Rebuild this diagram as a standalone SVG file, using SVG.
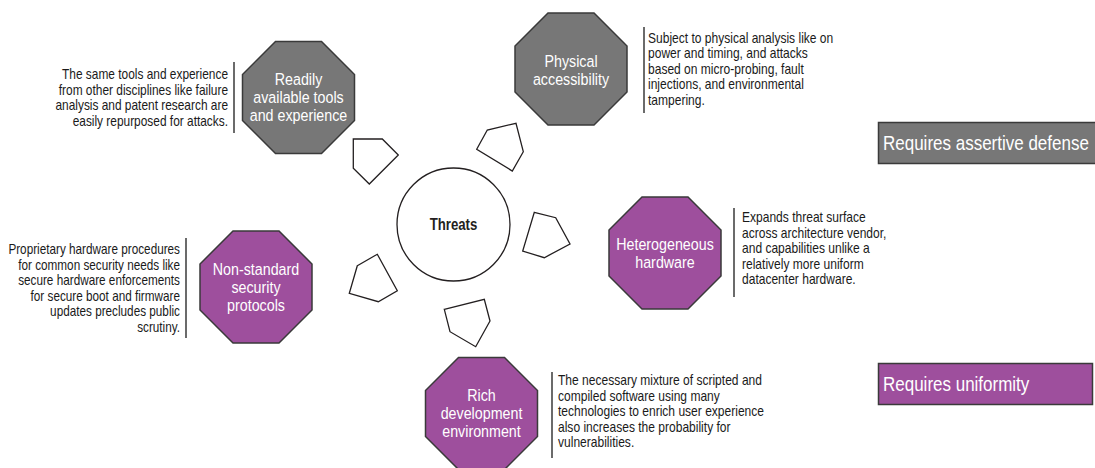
<svg xmlns="http://www.w3.org/2000/svg" width="1095" height="468" viewBox="0 0 1095 468">
<style>
.oct{stroke:#3a3a3a;stroke-width:1.5}
.gray{fill:#777777}
.purple{fill:#9e4f9d}
.otxt{font-family:"Liberation Sans",Arial,sans-serif;font-size:17px;fill:#ffffff;text-anchor:middle}
.desc{font-family:"Liberation Sans",Arial,sans-serif;font-size:14px;fill:#1a1a1a}
.r{text-anchor:end}
.bar{stroke:#3a3a3a;stroke-width:1.5}
.pent{fill:#ffffff;stroke:#231f20;stroke-width:1.3}
.leg{font-family:"Liberation Sans",Arial,sans-serif;font-size:20px;fill:#ffffff}
</style>
<rect width="1095" height="468" fill="#ffffff"/>

<g id="connectors">
<polygon class="pent" points="353.3,139 382.3,139 398.3,155 369.3,184 353.3,168.3"/>
<polygon class="pent" points="476.7,149.3 487.3,130 516,123.3 523.3,151.7 512.3,171"/>
<polygon class="pent" points="534.3,212.3 555.7,217.7 570,244 544.3,257.7 522.7,251"/>
<polygon class="pent" points="357.3,265.7 377.3,254.3 397.3,290.7 378.3,301.7 349.3,293.3"/>
<polygon class="pent" points="444.3,309.3 484.3,299.3 490,321 475.7,346.7 450,331.7"/>
</g>

<g id="threats">
<circle cx="453.5" cy="224.5" r="56.5" fill="#ffffff" stroke="#231f20" stroke-width="1.3"/>
<g transform="translate(453.5,0) scale(0.8,1)">
<text x="0" y="230.5" font-family="Liberation Sans,Arial,sans-serif" font-size="16.5" font-weight="bold" fill="#231f20" text-anchor="middle">Threats</text>
</g>
</g>

<g id="readily">
<polygon class="oct gray" points="275.5,41.5 321.5,41.5 354.5,74.5 354.5,120.5 321.5,153.5 275.5,153.5 242.5,120.5 242.5,74.5"/>
<g transform="translate(298.5,0) scale(0.84,1)">
<text class="otxt" x="0" y="85.5">Readily</text>
<text class="otxt" x="0" y="103.5">available tools</text>
<text class="otxt" x="0" y="121.5">and experience</text>
</g>
<line class="bar" x1="234" y1="62" x2="234" y2="133"/>
<g transform="translate(228,0) scale(0.85,1)">
<text class="desc r" x="0" y="79.5">The same tools and experience</text>
<text class="desc r" x="0" y="95">from other disciplines like failure</text>
<text class="desc r" x="0" y="110.5">analysis and patent research are</text>
<text class="desc r" x="0" y="126">easily repurposed for attacks.</text>
</g>
</g>

<g id="physical">
<polygon class="oct gray" points="548,13 594,13 627,46 627,92 594,125 548,125 515,92 515,46"/>
<g transform="translate(571,0) scale(0.84,1)">
<text class="otxt" x="0" y="67">Physical</text>
<text class="otxt" x="0" y="85">accessibility</text>
</g>
<line class="bar" x1="644" y1="27" x2="644" y2="113"/>
<g transform="translate(648,0) scale(0.86,1)">
<text class="desc" x="0" y="43">Subject to physical analysis like on</text>
<text class="desc" x="0" y="58.5">power and timing, and attacks</text>
<text class="desc" x="0" y="74">based on micro-probing, fault</text>
<text class="desc" x="0" y="89.5">injections, and environmental</text>
<text class="desc" x="0" y="105">tampering.</text>
</g>
</g>

<g id="nonstandard">
<polygon class="oct purple" points="233,231 279,231 312,264 312,310 279,343 233,343 200,310 200,264"/>
<g transform="translate(256,0) scale(0.84,1)">
<text class="otxt" x="0" y="275">Non-standard</text>
<text class="otxt" x="0" y="293">security</text>
<text class="otxt" x="0" y="311">protocols</text>
</g>
<line class="bar" x1="186" y1="238" x2="186" y2="338"/>
<g transform="translate(180,0) scale(0.84,1)">
<text class="desc r" x="0" y="254.5">Proprietary hardware procedures</text>
<text class="desc r" x="0" y="270">for common security needs like</text>
<text class="desc r" x="0" y="285.5">secure hardware enforcements</text>
<text class="desc r" x="0" y="301">for secure boot and firmware</text>
<text class="desc r" x="0" y="316.5">updates precludes public</text>
<text class="desc r" x="0" y="332">scrutiny.</text>
</g>
</g>

<g id="heterogeneous">
<polygon class="oct purple" points="642,197 688,197 721,230 721,276 688,309 642,309 609,276 609,230"/>
<g transform="translate(665,0) scale(0.84,1)">
<text class="otxt" x="0" y="250">Heterogeneous</text>
<text class="otxt" x="0" y="268">hardware</text>
</g>
<line class="bar" x1="734" y1="208" x2="734" y2="297"/>
<g transform="translate(742,0) scale(0.86,1)">
<text class="desc" x="0" y="222.5">Expands threat surface</text>
<text class="desc" x="0" y="238">across architecture vendor,</text>
<text class="desc" x="0" y="253.5">and capabilities unlike a</text>
<text class="desc" x="0" y="269">relatively more uniform</text>
<text class="desc" x="0" y="284.5">datacenter hardware.</text>
</g>
</g>

<g id="rich">
<polygon class="oct purple" points="458.5,357.5 504.5,357.5 537.5,390.5 537.5,436.5 504.5,469.5 458.5,469.5 425.5,436.5 425.5,390.5"/>
<g transform="translate(481.5,0) scale(0.84,1)">
<text class="otxt" x="0" y="401.5">Rich</text>
<text class="otxt" x="0" y="419.5">development</text>
<text class="otxt" x="0" y="437.5">environment</text>
</g>
<line class="bar" x1="552" y1="372" x2="552" y2="458"/>
<g transform="translate(558,0) scale(0.86,1)">
<text class="desc" x="0" y="385.5">The necessary mixture of scripted and</text>
<text class="desc" x="0" y="401">compiled software using many</text>
<text class="desc" x="0" y="416.5">technologies to enrich user experience</text>
<text class="desc" x="0" y="432">also increases the probability for</text>
<text class="desc" x="0" y="447.5">vulnerabilities.</text>
</g>
</g>

<g id="legend-assertive">
<rect x="878.5" y="122.5" width="220" height="41" fill="#777777" stroke="#3a3a3a" stroke-width="1.5"/>
<g transform="translate(883,0) scale(0.85,1)">
<text class="leg" x="0" y="150">Requires assertive defense</text>
</g>
</g>

<g id="legend-uniformity">
<rect x="878.5" y="363.5" width="214" height="41" fill="#9e4f9d" stroke="#3a3a3a" stroke-width="1.5"/>
<g transform="translate(883,0) scale(0.85,1)">
<text class="leg" x="0" y="391">Requires uniformity</text>
</g>
</g>
</svg>
